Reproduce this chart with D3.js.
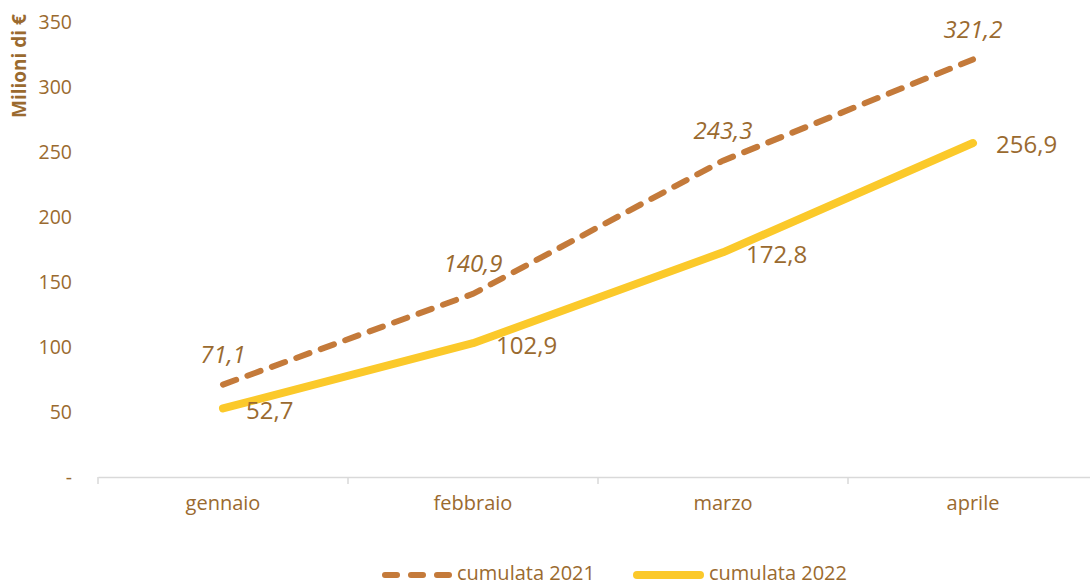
<!DOCTYPE html>
<html><head><meta charset="utf-8">
<script src="https://cdn.jsdelivr.net/npm/d3@7"></script>
<style>body{margin:0;background:#fff}svg{display:block}text{font-family:"Open Sans","Noto Sans",sans-serif}</style>
</head><body><svg id="c" width="1090" height="585"></svg>
<script>
const months = ["gennaio","febbraio","marzo","aprile"];
const cum2021 = [71.1,140.9,243.3,321.2];
const cum2022 = [52.7,102.9,172.8,256.9];
const yTicks = [0,50,100,150,200,250,300,350];
const seriesNames = ["cumulata 2021","cumulata 2022"];

const svg = d3.select("#c");
const textCol = "#9a6a2f", c21 = "#c47a3a", c22 = "#fbc92a";
const x = d3.scaleBand().domain(months).range([98,1098]);
const y = d3.scaleLinear().domain([0,350]).range([477,22]);
const fmt = v => v.toFixed(1).replace(".",",");

// y axis labels
svg.append("g").selectAll("text").data(yTicks).join("text")
  .attr("x",72).attr("y",d=>y(d)).attr("dy","0.35em").attr("text-anchor","end")
  .attr("fill",textCol).attr("font-size",19.5).text(d=>d===0?"-":d);
svg.append("text").attr("transform","translate(26,66) rotate(-90)")
  .attr("text-anchor","middle").attr("fill",textCol).attr("font-size",19).attr("font-weight","bold").text("Milioni di €");

// x axis
const xa = svg.append("g").attr("transform","translate(0,477)")
  .call(d3.axisBottom(x).tickSize(0).tickFormat(""));
xa.select(".domain").attr("stroke","#d9d9d9").attr("stroke-width",1.5);
svg.append("g").selectAll("line").data(months.concat(["_end"])).join("line")
  .attr("x1",(d,i)=>98+i*x.step()).attr("x2",(d,i)=>98+i*x.step())
  .attr("y1",477).attr("y2",484).attr("stroke","#d9d9d9").attr("stroke-width",1.5);
svg.append("g").selectAll("text").data(months).join("text")
  .attr("x",d=>x(d)+x.bandwidth()/2).attr("y",510).attr("text-anchor","middle")
  .attr("fill",textCol).attr("font-size",20).text(d=>d);

const cx = d => x(d)+x.bandwidth()/2;
const line = d3.line().x((d,i)=>cx(months[i])).y(d=>y(d));
svg.append("path").datum(cum2022).attr("d",line).attr("fill","none")
  .attr("stroke",c22).attr("stroke-width",8).attr("stroke-linecap","round").attr("stroke-linejoin","round");
svg.append("path").datum(cum2021).attr("d",line).attr("fill","none")
  .attr("stroke",c21).attr("stroke-width",6).attr("stroke-linecap","round")
  .attr("stroke-dasharray","14 12");

// labels
svg.append("g").selectAll("text").data(cum2021).join("text")
  .attr("x",(d,i)=>cx(months[i])).attr("y",d=>y(d)-30).attr("dy","0.35em")
  .attr("text-anchor","middle").attr("font-style","italic").attr("fill",textCol).attr("font-size",24).text(fmt);
svg.append("g").selectAll("text").data(cum2022).join("text")
  .attr("x",(d,i)=>cx(months[i])+23).attr("y",d=>y(d)+2).attr("dy","0.35em")
  .attr("text-anchor","start").attr("fill",textCol).attr("font-size",24).text(fmt);

// legend
const lg = svg.append("g");
lg.append("line").attr("x1",385).attr("x2",450).attr("y1",575).attr("y2",575)
  .attr("stroke",c21).attr("stroke-width",6).attr("stroke-linecap","round").attr("stroke-dasharray","12 14");
lg.append("text").attr("x",457).attr("y",573).attr("dy","0.35em").attr("fill",textCol).attr("font-size",20).text(seriesNames[0]);
lg.append("line").attr("x1",637).attr("x2",700).attr("y1",575).attr("y2",575)
  .attr("stroke",c22).attr("stroke-width",8).attr("stroke-linecap","round");
lg.append("text").attr("x",709).attr("y",573).attr("dy","0.35em").attr("fill",textCol).attr("font-size",20).text(seriesNames[1]);
</script></body></html>
